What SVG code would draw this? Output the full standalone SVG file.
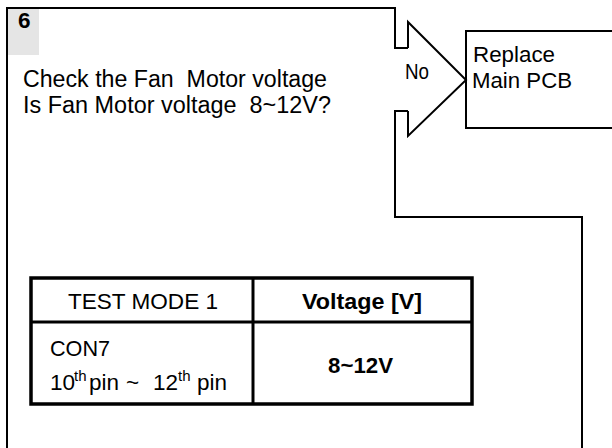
<svg xmlns="http://www.w3.org/2000/svg" width="612" height="448" viewBox="0 0 612 448">
<style>
.ln{fill:none;stroke:#000;stroke-width:2;stroke-linejoin:miter}
.tx{font-family:"Liberation Sans",Arial,sans-serif;font-size:22.5px;fill:#000;white-space:pre}
.q{font-size:23.5px}
.b{font-weight:bold}
.sup{font-size:15px}
.tb{fill:#fff;stroke:#000;stroke-width:3.5}
.ti{stroke:#000;stroke-width:3}
</style>
<rect width="612" height="448" fill="#fff"/>
<g id="step6">
<rect x="7" y="8" width="32" height="47" fill="#e5e5e5"/>
<path class="ln" d="M7,448 V8 H395 V48 H408 M408,111 H395 V217 H582 V448"/>
<text class="tx b" x="18" y="28" font-size="21">6</text>
<text class="tx q" x="23" y="87" textLength="304" lengthAdjust="spacingAndGlyphs">Check the Fan  Motor voltage</text>
<text class="tx q" x="23" y="113" textLength="308" lengthAdjust="spacingAndGlyphs">Is Fan Motor voltage  8~12V?</text>
</g>
<g id="connectors">
<path class="ln" d="M408,48 V22 L466,80 L408,136 V111"/>
<text class="tx" x="405" y="79" textLength="24" lengthAdjust="spacingAndGlyphs">No</text>
</g>
<g id="replace">
<rect class="ln" x="466" y="31" width="160" height="97" fill="#fff"/>
<text class="tx" x="473" y="62" textLength="82" lengthAdjust="spacingAndGlyphs">Replace</text>
<text class="tx" x="472" y="88" textLength="100" lengthAdjust="spacingAndGlyphs">Main PCB</text>
</g>
<g id="table">
<rect class="tb" x="31" y="278" width="441" height="126"/>
<line class="ti" x1="31" y1="322" x2="472" y2="322"/>
<line class="ti" x1="253" y1="278" x2="253" y2="404"/>
<text class="tx" x="68" y="309" textLength="150" lengthAdjust="spacingAndGlyphs">TEST MODE 1</text>
<text class="tx b" x="302" y="309" textLength="120" lengthAdjust="spacingAndGlyphs">Voltage [V]</text>
<text class="tx" x="50" y="356" textLength="60" lengthAdjust="spacingAndGlyphs">CON7</text>
<text class="tx" y="390"><tspan x="50">10</tspan><tspan class="sup" x="74" dy="-9">th</tspan><tspan x="89" dy="9">pin</tspan><tspan x="126">~</tspan><tspan x="153">12</tspan><tspan class="sup" x="178" dy="-9">th</tspan><tspan x="197" dy="9">pin</tspan></text>
<text class="tx b" x="328" y="373" textLength="65" lengthAdjust="spacingAndGlyphs">8~12V</text>
</g>
</svg>
